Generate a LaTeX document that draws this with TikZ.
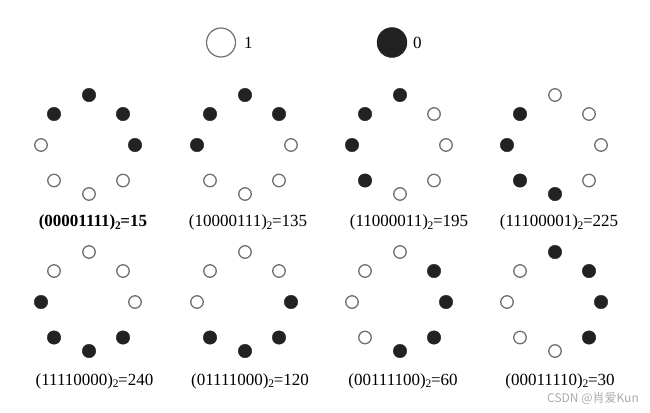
\documentclass[tikz,border=0pt]{standalone}
\usepackage{fontspec}
\setmainfont{Liberation Serif}
\newfontfamily\cjkwm{Noto Sans CJK SC}
\definecolor{dotfill}{HTML}{222222}
\definecolor{dotline}{HTML}{707070}
\definecolor{wmgray}{HTML}{ABABAB}
\newcommand\subtwo{\kern-0.3bp\raisebox{-2.5bp}{\fontsize{11.5bp}{11.5bp}\selectfont 2}\kern-0.3bp}
\newcommand\ringdots[4]{%
  \foreach \s [count=\k from 0] in {#4}{%
    \pgfmathsetmacro\dx{{0,34,46,34,0,-35,-48,-35}[\k]}%
    \pgfmathsetmacro\dy{{-50,-31,0,35.5,49,35.5,0,-31}[\k]}%
    \node[\s] (#1-\k) at (#2+\dx,#3+\dy) {};
  }}
\begin{document}
\begin{tikzpicture}[x=1bp,y=-1bp,
  bitzero/.style={circle, fill=dotfill, draw=dotfill, line width=0.4bp, inner sep=0pt, minimum size=13.5bp},
  bitone/.style={circle, draw=dotline, fill=white, line width=1.3bp, inner sep=0pt, minimum size=12.5bp},
  bigzero/.style={circle, fill=dotfill, draw=dotfill, line width=0.4bp, inner sep=0pt, minimum size=30bp},
  bigone/.style={circle, draw=dotline, fill=white, line width=1.2bp, inner sep=0pt, minimum size=29bp},
  lab/.style={anchor=base, inner sep=0pt, font=\fontsize{17bp}{20bp}\selectfont},
  leg/.style={anchor=base west, inner sep=0pt, font=\fontsize{17bp}{20bp}\selectfont}]
\useasboundingbox (0,0) rectangle (650,412);
% legend
\node[bigone] (l1) at (221,42.5) {};
\node[leg] (t1) at (244,48) {1};
\node[bigzero] (l0) at (392,42.5) {};
\node[leg] (t0) at (413,48) {0};
% rings, order: T, TR, R, BR, B, BL, L, TL
\ringdots{a}{89}{145}{bitzero,bitzero,bitzero,bitone,bitone,bitone,bitone,bitzero}
\ringdots{b}{245}{145}{bitzero,bitzero,bitone,bitone,bitone,bitone,bitzero,bitzero}
\ringdots{c}{400}{145}{bitzero,bitone,bitone,bitone,bitone,bitzero,bitzero,bitzero}
\ringdots{d}{555}{145}{bitone,bitone,bitone,bitone,bitzero,bitzero,bitzero,bitzero}
\ringdots{e}{89}{302}{bitone,bitone,bitone,bitzero,bitzero,bitzero,bitzero,bitone}
\ringdots{f}{245}{302}{bitone,bitone,bitzero,bitzero,bitzero,bitzero,bitone,bitone}
\ringdots{g}{400}{302}{bitone,bitzero,bitzero,bitzero,bitzero,bitone,bitone,bitone}
\ringdots{h}{555}{302}{bitzero,bitzero,bitzero,bitzero,bitone,bitone,bitone,bitone}
% labels
\node[lab] (la) at (93,226.5) {\textbf{(00001111)\subtwo=15}};
\node[lab] (lb) at (248,226.5) {(10000111)\subtwo=135};
\node[lab] (lc) at (409,226.5) {(11000011)\subtwo=195};
\node[lab] (ld) at (559,226.5) {(11100001)\subtwo=225};
\node[lab] (le) at (94.5,385) {(11110000)\subtwo=240};
\node[lab] (lf) at (250,385) {(01111000)\subtwo=120};
\node[lab] (lg) at (403,385) {(00111100)\subtwo=60};
\node[lab] (lh) at (560,385) {(00011110)\subtwo=30};
% watermark
\node[anchor=base west, inner sep=0pt, text=wmgray, font=\cjkwm\fontsize{12bp}{14bp}\selectfont] (wm) at (547,402) {CSDN @肖爱Kun};
\end{tikzpicture}
\end{document}
